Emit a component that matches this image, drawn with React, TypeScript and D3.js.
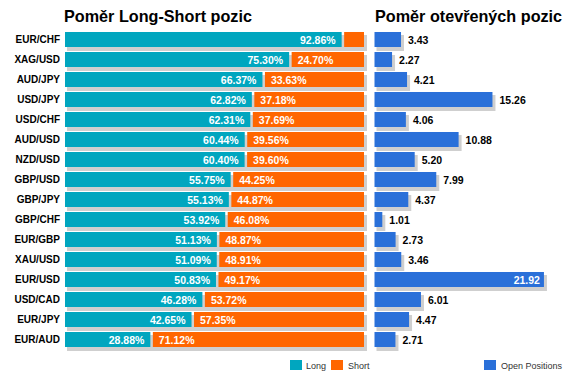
import React from "react";
import * as d3 from "d3";

const categories = ["EUR/CHF","XAG/USD","AUD/JPY","USD/JPY","USD/CHF","AUD/USD","NZD/USD","GBP/USD","GBP/JPY","GBP/CHF","EUR/GBP","XAU/USD","EUR/USD","USD/CAD","EUR/JPY","EUR/AUD"];
const longValues = [92.86,75.30,66.37,62.82,62.31,60.44,60.40,55.75,55.13,53.92,51.13,51.09,50.83,46.28,42.65,28.88];
const shortValues = [7.14,24.70,33.63,37.18,37.69,39.56,39.60,44.25,44.87,46.08,48.87,48.91,49.17,53.72,57.35,71.12];
const openValues = [3.43,2.27,4.21,15.26,4.06,10.88,5.20,7.99,4.37,1.01,2.73,3.46,21.92,6.01,4.47,2.71];

const W = 571, H = 380;
const LONG = "#00a6bf", SHORT = "#ff6600", OPEN = "#2a70d9", SHADOW = "#cfcfcf";
const FONT = "'Liberation Sans', Arial, sans-serif";

export default function App() {
  const y = d3.scaleBand<string>().domain(categories).range([29.5, 349.5]).paddingInner(0.25).paddingOuter(0.125);
  const xL = d3.scaleLinear().domain([0, 100]).range([65, 364]);
  const xR = d3.scaleLinear().domain([0, 25]).range([374.5, 567.75]);
  const bh = y.bandwidth();

  return (
    <svg width={W} height={H} style={{ position: "absolute", left: 0, top: 0 }} fontFamily={FONT}>
      <rect width={W} height={H} fill="#fff" />
      <text x={64} y={22} fontSize={16.2} fontWeight="bold" fill="#000">Poměr Long-Short pozic</text>
      <text x={375} y={22} fontSize={16.2} fontWeight="bold" fill="#000">Poměr otevřených pozic</text>
      {categories.map((c, i) => {
        const y0 = y(c)!;
        const lEnd = xL(longValues[i]);
        const sEnd = xL(longValues[i] + shortValues[i]);
        return (
          <g key={"s" + c} fill={SHADOW}>
            <rect x={xL(0) + 2} y={y0 + 3} width={lEnd - xL(0) + 1} height={bh + 1} />
            <rect x={lEnd + 2} y={y0 + 3} width={sEnd - lEnd + 1} height={bh + 1} />
            <rect x={xR(0) + 2} y={y0 + 3} width={xR(openValues[i]) - xR(0) + 1} height={bh + 1} />
          </g>
        );
      })}
      {categories.map((c, i) => {
        const y0 = y(c)!;
        const cy = y0 + bh / 2;
        const lEnd = xL(longValues[i]);
        const sEnd = xL(longValues[i] + shortValues[i]);
        const oEnd = xR(openValues[i]);
        const sw = sEnd - lEnd - 1.5;
        const showShort = sw > 40;
        const ow = oEnd - xR(0);
        const inside = ow > 150;
        return (
          <g key={c}>
            <text x={60} y={cy + 3.5} textAnchor="end" fontSize={10} fontWeight="bold" fill="#000">{c}</text>
            <rect x={xL(0)} y={y0} width={lEnd - xL(0) - 1} height={bh} fill={LONG} />
            <rect x={lEnd + 1.5} y={y0} width={sw} height={bh} fill={SHORT} />
            <text x={lEnd - 7} y={cy + 4} textAnchor="end" fontSize={10.5} fontWeight="bold" fill="#fff">{longValues[i].toFixed(2)}%</text>
            {showShort && (
              <text x={lEnd + 7.5} y={cy + 4} fontSize={10.5} fontWeight="bold" fill="#fff">{shortValues[i].toFixed(2)}%</text>
            )}
            <rect x={xR(0)} y={y0} width={ow} height={bh} fill={OPEN} />
            {inside ? (
              <text x={oEnd - 4} y={cy + 4} textAnchor="end" fontSize={10.5} fontWeight="bold" fill="#fff">{openValues[i].toFixed(2)}</text>
            ) : (
              <text x={oEnd + 7} y={cy + 4} fontSize={10.5} fontWeight="bold" fill="#000">{openValues[i].toFixed(2)}</text>
            )}
          </g>
        );
      })}
      <g fontSize={9} fill="#333">
        <rect x={290} y={360} width={12} height={10} fill={LONG} />
        <text x={306} y={368.5}>Long</text>
        <rect x={331} y={360} width={12} height={10} fill={SHORT} />
        <text x={348} y={368.5}>Short</text>
        <rect x={484} y={360} width={12} height={10} fill={OPEN} />
        <text x={501} y={368.5}>Open Positions</text>
      </g>
    </svg>
  );
}
